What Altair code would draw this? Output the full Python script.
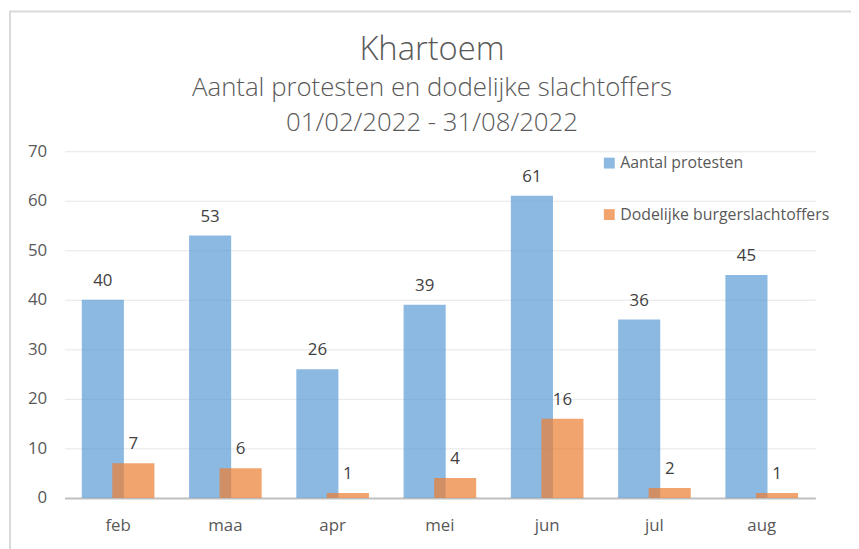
import altair as alt
import pandas as pd

months = ["feb", "maa", "apr", "mei", "jun", "jul", "aug"]
protesten = [40, 53, 26, 39, 61, 36, 45]
slachtoffers = [7, 6, 1, 4, 16, 2, 1]
series_names = ["Aantal protesten", "Dodelijke burgerslachtoffers"]
series_colors = ["#5B9BD5", "#ED7D31"]
y_ticks = [0, 10, 20, 30, 40, 50, 60, 70]

rows = []
for m, p, s in zip(months, protesten, slachtoffers):
    rows.append({"maand": m, "reeks": series_names[0], "waarde": p})
    rows.append({"maand": m, "reeks": series_names[1], "waarde": s})
df = pd.DataFrame(rows)

FONT = "Open Sans"
GREY = "#595959"

x_enc = alt.X("maand:N", sort=months,
              scale=alt.Scale(paddingInner=0, paddingOuter=0),
              axis=alt.Axis(title=None, labelAngle=0, labelFontSize=17, labelColor=GREY,
                            labelFont=FONT, labelPadding=20, ticks=False, grid=False,
                            domainColor="#BFBFBF", domainWidth=2))
y_enc = alt.Y("waarde:Q", scale=alt.Scale(domain=[0, 70], nice=False),
              axis=alt.Axis(title=None, values=y_ticks, labelFontSize=17, labelColor=GREY,
                            labelFont=FONT, labelPadding=18, ticks=False, domain=False,
                            grid=True, gridColor="#E6E6E6", gridWidth=1))
color_enc = alt.Color("reeks:N",
                      scale=alt.Scale(domain=series_names, range=series_colors),
                      legend=alt.Legend(title=None, orient="none", legendX=542, legendY=4,
                                        direction="vertical", labelFontSize=16,
                                        labelFont=FONT, labelColor=GREY, symbolType="square",
                                        symbolSize=121, symbolStrokeWidth=0,
                                        symbolOpacity=0.7, rowPadding=36,
                                        labelOffset=3, padding=0, labelLimit=400))

base = alt.Chart(df)
OFF = 15.4
BW = 42.5

bars_p = base.transform_filter(alt.datum.reeks == series_names[0]).mark_bar(
    width=BW, xOffset=-OFF, opacity=0.7).encode(x=x_enc, y=y_enc, color=color_enc)
bars_s = base.transform_filter(alt.datum.reeks == series_names[1]).mark_bar(
    width=BW, xOffset=OFF, opacity=0.7).encode(x=x_enc, y=y_enc, color=color_enc)

txt_p = base.transform_filter(alt.datum.reeks == series_names[0]).mark_text(
    xOffset=-OFF, dy=-14, baseline="alphabetic", fontSize=17, font=FONT, color="#404040"
).encode(x=x_enc, y=y_enc, text="waarde:Q")
txt_s = base.transform_filter(alt.datum.reeks == series_names[1]).mark_text(
    xOffset=OFF, dy=-14, baseline="alphabetic", fontSize=17, font=FONT, color="#404040"
).encode(x=x_enc, y=y_enc, text="waarde:Q")

frame = alt.Chart(pd.DataFrame({"k": [0]})).mark_rect(
    fillOpacity=0, stroke="#D9D9D9", strokeWidth=2
).encode(x=alt.value(-55), x2=alt.value(900), y=alt.value(-141), y2=alt.value(500))

chart = alt.layer(frame, bars_p, bars_s, txt_p, txt_s).properties(
    width=758, height=350,
    background="white",
    autosize=alt.AutoSizeParams(type="none"),
    padding={"left": 57, "top": 142, "right": 36, "bottom": 49},
    title=alt.TitleParams(
        text="Khartoem",
        subtitle=["Aantal protesten en dodelijke slachtoffers", "01/02/2022 - 31/08/2022"],
        font=FONT, fontSize=33, fontWeight=300, color=GREY,
        subtitleFont=FONT, subtitleFontSize=26, subtitleFontWeight=300, subtitleColor=GREY,
        subtitleLineHeight=36, subtitlePadding=8,
        anchor="middle", dx=-8, dy=141, offset=14,
    ),
).configure_view(strokeWidth=0)

chart.save("out.html", embed_options={"renderer": "svg", "actions": False})
